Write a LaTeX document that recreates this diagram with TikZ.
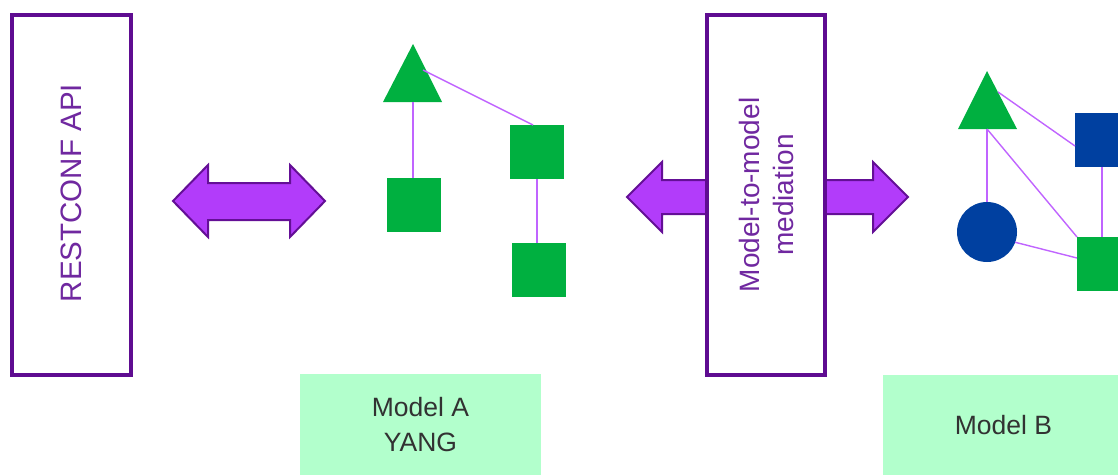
\documentclass[tikz,border=0pt]{standalone}
\usepackage{fontspec}
\setmainfont{Liberation Sans}
\usetikzlibrary{shapes.geometric}
\definecolor{boxpurple}{RGB}{95,12,145}
\definecolor{txtpurple}{RGB}{112,40,160}
\definecolor{arrowfill}{RGB}{178,60,250}
\definecolor{arrowline}{RGB}{100,15,150}
\definecolor{shgreen}{RGB}{0,176,64}
\definecolor{shblue}{RGB}{0,64,160}
\definecolor{linkcol}{RGB}{192,100,255}
\definecolor{labfill}{RGB}{178,255,204}
\definecolor{labtxt}{RGB}{50,50,50}
\begin{document}
\begin{tikzpicture}[x=1pt,y=-1pt,
  bigbox/.style={draw=boxpurple,line width=4pt,fill=white,inner sep=0pt,outer sep=0pt},
  vtext/.style={text=txtpurple,rotate=90,align=center,inner sep=0pt},
  blockarrow/.style={fill=arrowfill,draw=arrowline,line width=2pt,line join=miter},
  gsq/.style={fill=shgreen,draw=none,minimum width=54pt,minimum height=54pt,inner sep=0pt,outer sep=0pt},
  bsq/.style={fill=shblue,draw=none,minimum width=54pt,minimum height=54pt,inner sep=0pt,outer sep=0pt},
  tri/.style={fill=shgreen,draw=none},
  link/.style={draw=linkcol,line width=1.4pt},
  lab/.style={fill=labfill,draw=none,text=labtxt,align=center,inner sep=0pt,outer sep=0pt,
    font=\fontsize{26.5}{35}\selectfont}
]
\useasboundingbox (0,0) rectangle (1118,475);
\clip (0,0) rectangle (1118,475);

% left big box
\node[bigbox,minimum width=119pt,minimum height=360pt] (rest) at (71.5,195) {};
\node[vtext,font=\fontsize{29.5}{35}\selectfont] (restlab) at (71.5,193) {RESTCONF API};

% left double arrow
\path[blockarrow] (173,201) -- (208,165) -- (208,183) -- (290,183) -- (290,165) -- (325,201)
  -- (290,237) -- (290,220) -- (208,220) -- (208,237) -- cycle;

% right double arrow behind mediation box
\path[blockarrow] (627,197) -- (662,162) -- (662,180) -- (873,180) -- (873,162) -- (908,197)
  -- (873,232) -- (873,214) -- (662,214) -- (662,232) -- cycle;

% mediation box
\node[bigbox,minimum width=118pt,minimum height=360pt] (med) at (766,195) {};
\node[vtext,font=\fontsize{28}{34}\selectfont] (medlab) at (766,195) {Model-to-model\\mediation};

% Model A shapes
\path[tri] (413,44) -- (442,102) -- (383,102) -- cycle;
\coordinate (taB) at (413,102);
\coordinate (taR) at (423,70);
\node[gsq] (a1) at (414,205) {};
\node[gsq] (a2) at (537,152) {};
\node[gsq] (a3) at (539,270) {};
\draw[link] (taB) -- (a1.north -| taB);
\draw[link] (taR) -- ([xshift=-4pt]a2.north);
\draw[link] (a2.south) -- (a3.north -| a2.south);

% Model B shapes
\path[tri] (987,71) -- (1017,129) -- (958,129) -- cycle;
\coordinate (tbB) at (987,129);
\coordinate (tbR) at (998,92);
\node[circle,fill=shblue,draw=none,minimum size=60pt,inner sep=0pt,outer sep=0pt] (bc) at (987,232) {};
\node[bsq] (bsq1) at (1102,140) {};
\node[gsq] (bsq2) at (1104,264) {};
\draw[link] (tbB) -- (bc.north);
\draw[link] (tbR) -- ([yshift=-6pt]bsq1.west);
\draw[link] (tbB) -- (bsq2.north west);
\draw[link] (bc.-20) -- ([yshift=6pt]bsq2.west);
\draw[link] (bsq1.south) -- (bsq2.north -| bsq1.south);

% labels
\node[lab,minimum width=241pt,minimum height=101pt] (labA) at (420.5,424.5) {Model A\\YANG};
\node[lab,minimum width=241pt,minimum height=100pt] (labB) at (1003.5,425) {Model B};
\end{tikzpicture}
\end{document}
